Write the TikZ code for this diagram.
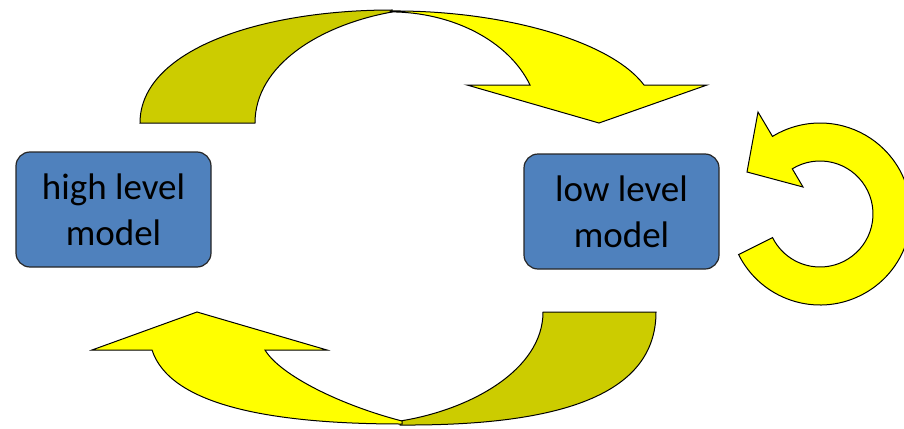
\documentclass[tikz,border=0pt]{standalone}
\usepackage{fontspec}
\setmainfont{Carlito}
\definecolor{boxblue}{RGB}{79,129,189}
\definecolor{olivefill}{RGB}{204,204,0}
\definecolor{yelfill}{RGB}{255,255,0}
\begin{document}
\begin{tikzpicture}[x=1pt,y=-1pt,
  box/.style={draw=black!85, line width=1.2pt, fill=boxblue, rounded corners=14pt,
    minimum width=195pt, minimum height=115pt, align=center, inner sep=0pt,
    font=\fontsize{37}{46}\selectfont},
  front/.style={draw=black, line width=1pt, fill=yelfill},
  back/.style={draw=black, line width=1pt, fill=olivefill}]
\useasboundingbox (0,0) rectangle (904,428);

% boxes
\node[box] (hl) at (113.5,209.5) {high level\\model};
\node[box] (ll) at (621.5,211.5) {low level\\model};

% top curved arrow: back part
\draw[back] (140,123) .. controls (140,50) and (260,10) .. (392,10)
  -- (392,12) .. controls (320,25) and (255,65) .. (255,123) -- cycle;
% top curved arrow: front part
\draw[front] (390,11) .. controls (500,10) and (610,40) .. (644,85)
  -- (707,85) -- (599,123) -- (467,85) -- (530,85)
  arc[start angle=-19.6, end angle=-90, x radius=148.6, y radius=110] -- cycle;

% bottom curved arrow: back part
\draw[back] (543,312) -- (656,312)
  .. controls (656,395) and (560,426) .. (400,425)
  -- (400,421) .. controls (470,410) and (543,370) .. (543,312) -- cycle;
% bottom curved arrow: front part
\draw[front] (402,424) .. controls (270,424) and (170,405) .. (152,350)
  -- (92,350) -- (197,312) -- (327,350) -- (265,350)
  .. controls (280,375) and (340,405) .. (402,421) -- cycle;

% circular arrow
\draw[front] (738.6,254.6) arc[start angle=153.5, end angle=-121.5, radius=91]
  -- (758,112) -- (747,172) -- (803,187) -- (792.3,168.8)
  arc[start angle=-121.5, end angle=153.5, radius=53] -- cycle;
\end{tikzpicture}
\end{document}
